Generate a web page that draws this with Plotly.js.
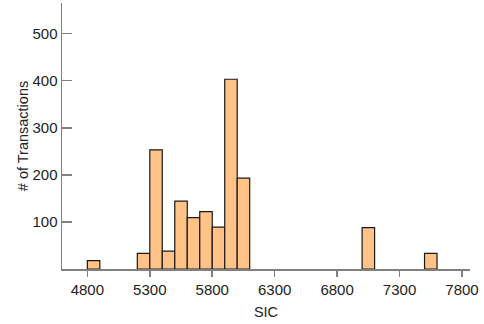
<!DOCTYPE html>
<html>
<head>
<meta charset="utf-8">
<script src="https://cdn.plot.ly/plotly-3.0.1.min.js"></script>
<style>html,body{margin:0;padding:0;background:#fff}#chart{width:484px;height:324px}</style>
</head>
<body>
<div id="chart"></div>
<script>
var binStarts = [4800, 5200, 5300, 5400, 5500, 5600, 5700, 5800, 5900, 6000, 7000, 7500];
var counts = [18, 33, 253, 38, 144, 109, 122, 89, 403, 193, 88, 33];
var binWidth = 100;
var xTicks = [4800, 5300, 5800, 6300, 6800, 7300, 7800];
var yTicks = [100, 200, 300, 400, 500];

var font = "'Liberation Sans', Arial, sans-serif";

var trace = {
  type: 'bar',
  x: binStarts,
  y: counts,
  width: binStarts.map(function(){return binWidth;}),
  offset: 0,
  marker: {color: '#FFC287', line: {color: '#1a1a1a', width: 1.2}},
  hoverinfo: 'x+y'
};

var layout = {
  width: 484, height: 324,
  margin: {l: 62, r: 14, t: 3, b: 55},
  paper_bgcolor: '#fff', plot_bgcolor: '#fff',
  showlegend: false,
  bargap: 0,
  font: {family: font, size: 15, color: '#222'},
  xaxis: {
    range: [4597, 7864],
    tickvals: xTicks,
    ticktext: xTicks.map(String),
    showgrid: false, zeroline: false,
    showline: true, linecolor: '#808080', linewidth: 1.5,
    ticks: 'outside', ticklen: 6, tickcolor: '#808080', tickwidth: 1.5,
    tickfont: {family: font, size: 15, color: '#222'},
    title: {text: 'SIC', font: {family: font, size: 14.5, color: '#222'}, standoff: 10}
  },
  yaxis: {
    range: [0, 565],
    tickvals: yTicks,
    ticktext: yTicks.map(String),
    showgrid: false, zeroline: false,
    showline: true, linecolor: '#808080', linewidth: 1.5,
    ticks: 'inside', ticklen: 10, tickcolor: '#808080', tickwidth: 1.5,
    tickfont: {family: font, size: 15, color: '#222'},
    title: {text: '# of Transactions', font: {family: font, size: 14.5, color: '#222'}, standoff: 0}
  }
};

Plotly.newPlot('chart', [trace], layout, {displayModeBar: false, staticPlot: true});
</script>
</body>
</html>
